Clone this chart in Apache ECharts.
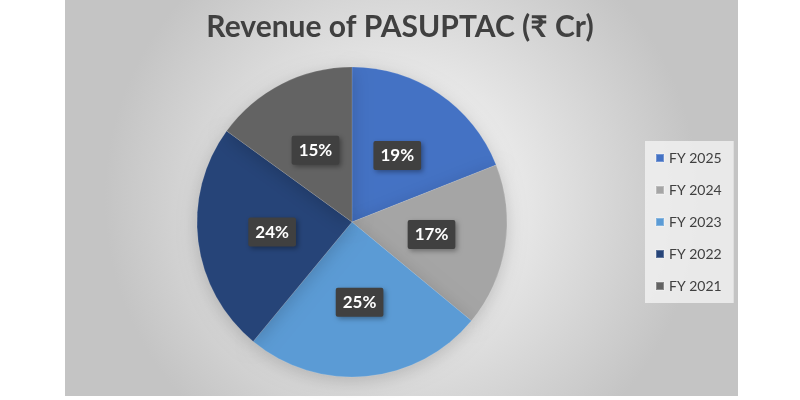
<!DOCTYPE html>
<html>
<head>
<meta charset="utf-8">
<script src="https://cdn.jsdelivr.net/npm/echarts@6/dist/echarts.min.js"></script>
<style>
  html, body { margin: 0; padding: 0; background: #fff; }
  #chart { width: 800px; height: 400px; }
</style>
</head>
<body>
<div id="chart"></div>
<script>
// data
const years = ['FY 2025', 'FY 2024', 'FY 2023', 'FY 2022', 'FY 2021'];
const shares = [19, 17, 25, 24, 15];
const colors = ['#4472C4', '#A5A5A5', '#5B9BD5', '#264478', '#636363'];

let chart = echarts.init(document.getElementById('chart'));

let option = {
    backgroundColor: '#ffffff',
    color: colors,
    graphic: [{
        type: 'rect',
        z: -10,
        silent: true,
        shape: { x: 65, y: 0, width: 673, height: 396 },
        style: {
            fill: new echarts.graphic.RadialGradient(0.5, 0.5, 0.75, [
                { offset: 0, color: '#ffffff' },
                { offset: 1, color: '#c4c4c4' }
            ])
        }
    }],
    title: {
        text: 'Revenue of PASUPTAC (₹ Cr)',
        left: 'center',
        top: 7,
        textStyle: {
            fontFamily: 'Lato',
            fontWeight: 'bold',
            fontSize: 30,
            color: '#404040'
        }
    },
    legend: {
        orient: 'vertical',
        left: 645,
        top: 141,
        itemWidth: 8,
        itemHeight: 8,
        itemGap: 18,
        icon: 'rect',
        padding: [10, 12, 10, 10],
        backgroundColor: 'rgba(242,242,242,0.8)',
        data: years,
        textStyle: {
            fontFamily: 'Lato',
            fontSize: 14,
            color: '#404040'
        }
    },
    series: [{
        type: 'pie',
        center: [352, 222],
        radius: [0, 155],
        startAngle: 90,
        clockwise: true,
        silent: true,
        animation: false,
        data: years.map((y, i) => ({ name: y, value: shares[i] })),
        itemStyle: {
            borderColor: 'rgba(255,255,255,0.25)',
            borderWidth: 0.5,
            shadowBlur: 18,
            shadowColor: 'rgba(0,0,0,0.18)',
            shadowOffsetY: 4
        },
        label: {
            show: true,
            position: 'inside',
            formatter: '{c}%',
            fontFamily: 'Lato',
            fontWeight: 'bold',
            fontSize: 17,
            color: '#ffffff',
            backgroundColor: '#404040',
            padding: [7, 7, 5, 7],
            borderRadius: 2,
            shadowBlur: 5,
            shadowColor: 'rgba(0,0,0,0.35)',
            shadowOffsetX: 2,
            shadowOffsetY: 2
        },
        labelLine: { show: false }
    }]
};

chart.setOption(option);
</script>
</body>
</html>
